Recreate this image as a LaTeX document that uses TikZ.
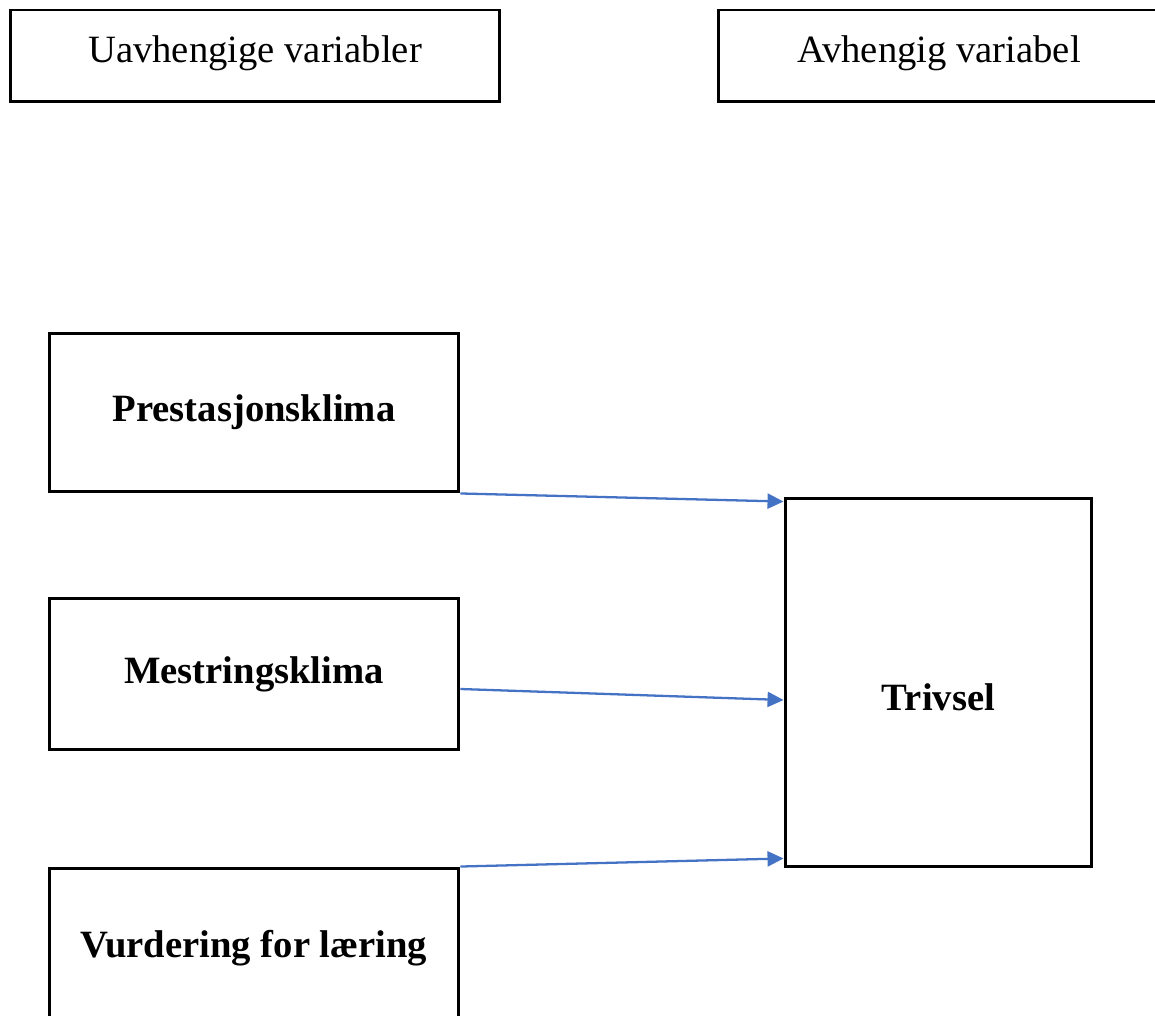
\documentclass[tikz,border=0pt]{standalone}
\usepackage{fontspec}
\setmainfont{Liberation Serif}
\usetikzlibrary{arrows.meta}
\definecolor{pilblue}{RGB}{68,114,196}
\begin{document}
\begin{tikzpicture}[x=0.02cm,y=-0.02cm,>={Triangle[length=0.32cm,width=0.3cm]},
		box/.style={draw,line width=1.7pt,inner sep=0pt,font=\fontsize{22}{26}\selectfont},
		var/.style={box,minimum width=8.2cm,font=\fontsize{22}{26}\selectfont\bfseries},
		pil/.style={->,draw=pilblue,line width=1.3pt}]
			\useasboundingbox (0,0) rectangle (1155,1016);
			\clip (0,0) rectangle (1155,1016);
			% overskrifter
			\node[box,minimum width=9.8cm,minimum height=1.84cm] (uv) at (255,56) {\raisebox{0.28cm}{Uavhengige variabler}};
			\node[box,minimum width=8.84cm,minimum height=1.84cm] (av) at (939,56) {\raisebox{0.28cm}{Avhengig variabel}};
			% variabler
			\node[var,minimum height=3.18cm] (pk) at (254,412.5) {Prestasjonsklima};
			\node[var,minimum height=3.04cm] (mk) at (254,674) {Mestringsklima};
			\node[var,minimum height=3.2cm] (vf) at (254,948) {Vurdering for læring};
			\node[var,minimum width=6.14cm,minimum height=7.38cm] (tr) at (938.5,682.5) {\raisebox{-0.55cm}[0pt][0pt]{Trivsel}};
			% piler
			\draw[pil] (pk.south east) -- ([yshift=-0.1cm]tr.north west);
			\draw[pil] ([yshift=-0.3cm]mk.east) -- ([yshift=-0.35cm]tr.west);
			\draw[pil] (vf.north east) -- ([yshift=0.2cm]tr.south west);
		\end{tikzpicture}
\end{document}
